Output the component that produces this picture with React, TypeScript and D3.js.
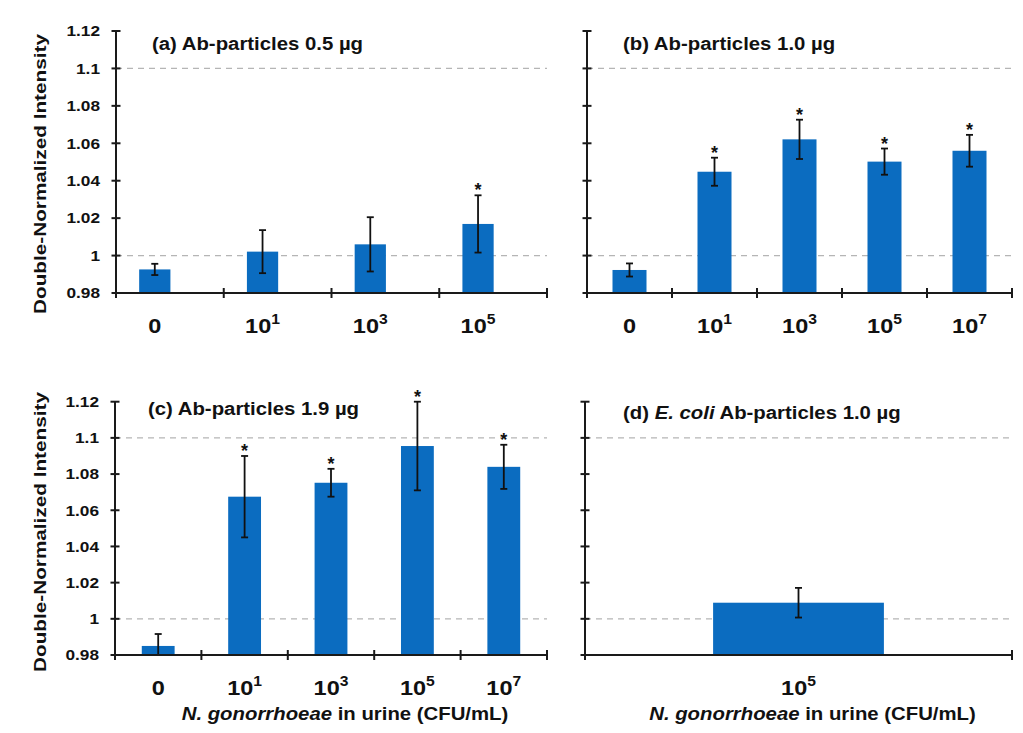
import React from "react";
import * as d3 from "d3";

// ---------- data ----------
const catsA = ["0", "10^1", "10^3", "10^5"];
const valuesA = [0.9926, 1.0021, 1.006, 1.0169];
const errA = [0.003, 0.0115, 0.0145, 0.0153];
const starsA = [false, false, false, true];

const catsB = ["0", "10^1", "10^3", "10^5", "10^7"];
const valuesB = [0.9923, 1.0448, 1.0621, 1.0502, 1.056];
const errB = [0.0035, 0.0075, 0.0105, 0.007, 0.0085];
const starsB = [false, true, true, true, true];

const catsC = ["0", "10^1", "10^3", "10^5", "10^7"];
const valuesC = [0.985, 1.0675, 1.0752, 1.0955, 1.084];
const errC = [0.0066, 0.0225, 0.0077, 0.0245, 0.0122];
const starsC = [false, true, true, true, true];

const catsD = ["10^5"];
const valuesD = [1.0089];
const errD = [0.0082];
const starsD = [false];

const yTicks = [0.98, 1, 1.02, 1.04, 1.06, 1.08, 1.1, 1.12];
const yTickLabels = ["0.98", "1", "1.02", "1.04", "1.06", "1.08", "1.1", "1.12"];
const gridValues = [1, 1.1];
const yDomain = [0.98, 1.12];

const titleA = [{ t: "(a) Ab-particles 0.5 µg" }];
const titleB = [{ t: "(b) Ab-particles 1.0 µg" }];
const titleC = [{ t: "(c) Ab-particles 1.9 µg" }];
const titleD = [{ t: "(d) " }, { t: "E. coli", i: true }, { t: " Ab-particles 1.0 µg" }];
const yTitle = "Double-Normalized Intensity";
const xTitle = [{ t: "N. gonorrhoeae", i: true }, { t: " in urine (CFU/mL)" }];

const BAR = "#0b6cc0";
const FONT = "'Liberation Sans', Arial, Helvetica, sans-serif";
const AX = "#1a1a1a";

type Part = { t: string; i?: boolean };

function CatLabel({ x, y, label }: { x: number; y: number; label: string }) {
  const [base, exp] = label.split("^");
  return (
    <text
      transform={`translate(${x},${y}) scale(1.12,1)`}
      textAnchor="middle"
      fontFamily={FONT}
      fontWeight="bold"
      fontSize={21}
      fill="#111"
    >
      <tspan>{base}</tspan>
      {exp !== undefined && (
        <tspan fontSize={14} dy={-9}>
          {exp}
        </tspan>
      )}
    </text>
  );
}

function Panel(props: {
  x0: number;
  x1: number;
  yTop: number;
  yBot: number;
  cats: string[];
  values: number[];
  errs: number[];
  stars: boolean[];
  barFrac: number;
  centerFrac: number;
  title: Part[];
  titleX: number;
  titleY: number;
  showYLabels: boolean;
  yTitleY?: number;
  catLabelY: number;
  showXTitle: boolean;
  innerTicks: boolean;
}) {
  const { x0, x1, yTop, yBot, cats, values, errs, stars, barFrac, centerFrac } = props;
  const x = d3.scaleBand<string>().domain(cats).range([x0, x1]).paddingInner(0).paddingOuter(0);
  const y = d3.scaleLinear().domain(yDomain).range([yBot, yTop]);
  const bw = x.bandwidth();
  const boundaries = props.innerTicks ? [...cats.map((c) => x(c) as number), x1] : [x0, x1];
  const cx = (c: string) => (x(c) as number) + bw * centerFrac;
  return (
    <g>
      {gridValues.map((g) => (
        <line
          key={g}
          x1={x0}
          x2={x1}
          y1={y(g)}
          y2={y(g)}
          stroke="#b5b5b5"
          strokeWidth={1.3}
          strokeDasharray="6,5"
        />
      ))}
      {cats.map((c, i) => {
        const w = bw * barFrac;
        const top = y(values[i]);
        return (
          <rect key={"b" + c} x={cx(c) - w / 2} y={top} width={w} height={yBot - top} fill={BAR} />
        );
      })}
      {cats.map((c, i) => {
        const hi = y(values[i] + errs[i]);
        const lo = y(Math.max(values[i] - errs[i], yDomain[0]));
        const xc = cx(c);
        return (
          <g key={"e" + c} stroke="#111" strokeWidth={1.8}>
            <line x1={xc} x2={xc} y1={hi} y2={lo} />
            <line x1={xc - 3.5} x2={xc + 3.5} y1={hi} y2={hi} />
            {values[i] - errs[i] > yDomain[0] && <line x1={xc - 3.5} x2={xc + 3.5} y1={lo} y2={lo} />}
          </g>
        );
      })}
      {cats.map((c, i) =>
        stars[i] ? (
          <text
            key={"s" + c}
            x={cx(c)}
            y={y(values[i] + errs[i]) + 1}
            textAnchor="middle"
            fontFamily={FONT}
            fontWeight="bold"
            fontSize={18}
            fill="#111"
          >
            *
          </text>
        ) : null
      )}
      {/* y axis */}
      <line x1={x0} x2={x0} y1={yTop} y2={yBot} stroke={AX} strokeWidth={2} />
      {yTicks.map((t) => (
        <line key={"yt" + t} x1={x0 - 4.5} x2={x0 + 4.5} y1={y(t)} y2={y(t)} stroke={AX} strokeWidth={2} />
      ))}
      {props.showYLabels &&
        yTicks.map((t, i) => (
          <text
            key={"yl" + t}
            transform={`translate(${x0 - 16},${y(t)}) scale(1.15,1)`}
            dy="0.35em"
            textAnchor="end"
            fontFamily={FONT}
            fontWeight="bold"
            fontSize={15}
            fill="#111"
          >
            {yTickLabels[i]}
          </text>
        ))}
      {/* x axis */}
      <line x1={x0} x2={x1} y1={yBot} y2={yBot} stroke={AX} strokeWidth={2} />
      {boundaries.map((b, i) => (
        <line key={"xt" + i} x1={b} x2={b} y1={yBot - 5} y2={yBot + 5} stroke={AX} strokeWidth={2} />
      ))}
      {cats.map((c) => (
        <CatLabel key={"cl" + c} x={cx(c)} y={props.catLabelY} label={c} />
      ))}
      {/* title */}
      <text
        transform={`translate(${props.titleX},${props.titleY}) scale(1.1,1)`}
        fontFamily={FONT}
        fontWeight="bold"
        fontSize={18.5}
        fill="#111"
      >
        {props.title.map((p, i) => (
          <tspan key={i} fontStyle={p.i ? "italic" : "normal"}>
            {p.t}
          </tspan>
        ))}
      </text>
      {props.yTitleY !== undefined && (
        <text
          transform={`translate(46,${props.yTitleY}) rotate(-90) scale(1.22,1)`}
          textAnchor="middle"
          fontFamily={FONT}
          fontWeight="bold"
          fontSize={17}
          fill="#111"
        >
          {yTitle}
        </text>
      )}
      {props.showXTitle && (
        <text
          transform={`translate(${(x0 + x1) / 2 + 14},720) scale(1.1,1)`}
          textAnchor="middle"
          fontFamily={FONT}
          fontWeight="bold"
          fontSize={18.5}
          fill="#111"
        >
          {xTitle.map((p, i) => (
            <tspan key={i} fontStyle={p.i ? "italic" : "normal"}>
              {p.t}
            </tspan>
          ))}
        </text>
      )}
    </g>
  );
}

export default function App() {
  return (
    <svg
      width={1023}
      height={733}
      style={{ position: "absolute", left: 0, top: 0, background: "#fff" }}
    >
      <rect width={1023} height={733} fill="#fff" />
      <Panel
        x0={116}
        x1={547}
        yTop={31}
        yBot={293}
        cats={catsA}
        values={valuesA}
        errs={errA}
        stars={starsA}
        barFrac={0.29}
        centerFrac={0.36}
        title={titleA}
        titleX={152}
        titleY={50}
        showYLabels={true}
        yTitleY={174}
        catLabelY={333}
        showXTitle={false}
        innerTicks={true}
      />
      <Panel
        x0={587}
        x1={1012}
        yTop={31}
        yBot={293}
        cats={catsB}
        values={valuesB}
        errs={errB}
        stars={starsB}
        barFrac={0.4}
        centerFrac={0.5}
        title={titleB}
        titleX={623}
        titleY={50}
        showYLabels={false}
        catLabelY={333}
        showXTitle={false}
        innerTicks={true}
      />
      <Panel
        x0={115}
        x1={547}
        yTop={401.7}
        yBot={655}
        cats={catsC}
        values={valuesC}
        errs={errC}
        stars={starsC}
        barFrac={0.38}
        centerFrac={0.5}
        title={titleC}
        titleX={148}
        titleY={415}
        showYLabels={true}
        yTitleY={532}
        catLabelY={695}
        showXTitle={true}
        innerTicks={true}
      />
      <Panel
        x0={585}
        x1={1012}
        yTop={401.7}
        yBot={655}
        cats={catsD}
        values={valuesD}
        errs={errD}
        stars={starsD}
        barFrac={0.4}
        centerFrac={0.5}
        title={titleD}
        titleX={623}
        titleY={419}
        showYLabels={false}
        catLabelY={695}
        showXTitle={true}
        innerTicks={false}
      />
    </svg>
  );
}
